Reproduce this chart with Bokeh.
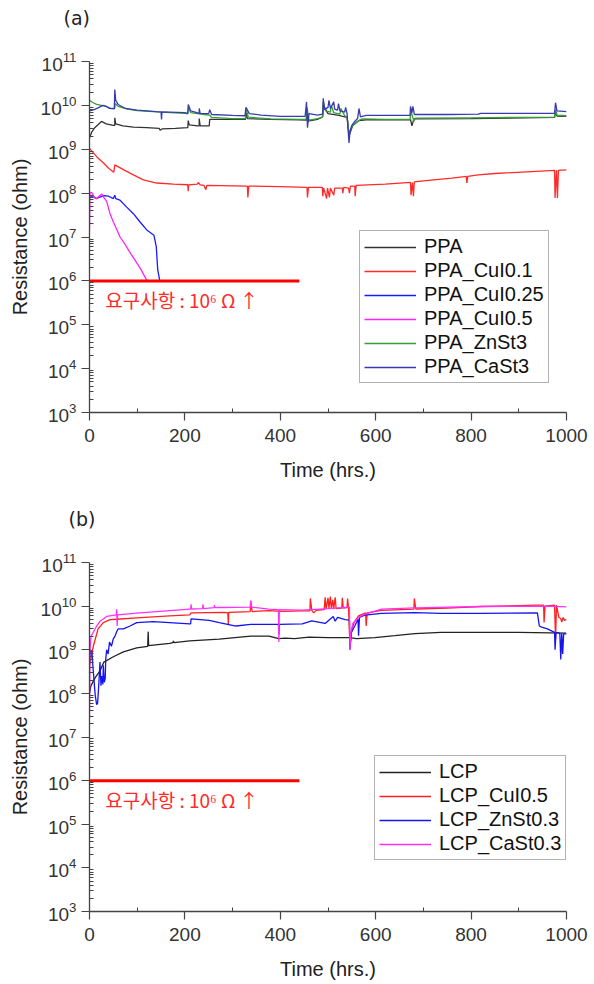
from bokeh.plotting import figure
from bokeh.layouts import column
from bokeh.models import Legend, LegendItem, Label, FixedTicker, LinearAxis
from bokeh.embed import file_html
from bokeh.resources import INLINE

# ---------------- data: panel (a) PPA ----------------
ppa_a = [(0,1.8e9),(5,2.5e9),(11,3.1e9),(21,3.9e9),(25,4.3e9),(35,3.8e9),(50,3.5e9),(53,3.5e9),(53,5.2e9),(55,3.8e9),
         (70,3.4e9),(92,3.2e9),(120,3.1e9),(146,3.0e9),(148,2.7e9),(152,2.9e9),(180,3.0e9),(206,3.1e9),(207,4.5e9),
         (209,3.6e9),(226,3.4e9),(230,3.4e9),(230,5.0e9),(232,3.4e9),(251,3.4e9),(252,4.8e9),(300,4.8e9),(327,4.8e9),
         (328,7.4e9),(331,5.0e9),(380,4.8e9),(440,4.7e9),(455,4.6e9),(456,8.0e9),(458,4.4e9),(478,4.8e9),(489,5.5e9),
         (490,1.0e10),(500,6.5e9),(520,6.0e9),(540,5.3e9),(544,2.0e9),(552,3.5e9),(565,4.5e9),(580,4.7e9),(673,4.7e9),
         (676,3.4e9),(680,4.9e9),(800,5.0e9),(975,5.3e9),(977,7.5e9),(980,5.7e9),(1000,5.6e9)]
ppa_cui01 = [(0,1.05e9),(16,6.6e8),(30,4.8e8),(40,3.7e8),(51,3.0e8),(53,4.4e8),(72,3.4e8),(92,2.6e8),(113,2.0e8),
             (141,1.7e8),(176,1.6e8),(206,1.55e8),(207,1.1e8),(208,1.55e8),(226,1.6e8),(228,1.75e8),(232,1.55e8),
             (240,1.5e8),(244,1.2e8),(246,1.5e8),(331,1.45e8),(332,8.0e7),(334,1.45e8),(398,1.4e8),(456,1.35e8),
             (457,8.0e7),(459,1.35e8),(488,1.35e8),(489,8.5e7),(491,1.3e8),(497,7.5e7),(499,1.3e8),(503,8.0e7),
             (505,1.3e8),(512,9.0e7),(514,1.3e8),(530,1.3e8),(531,1.0e8),(533,1.35e8),(543,1.3e8),(545,1.0e8),
             (547,1.45e8),(556,1.45e8),(557,8.5e7),(559,1.5e8),(620,1.6e8),(673,1.75e8),(674,9.0e7),(677,1.75e8),
             (679,8.5e7),(681,1.8e8),(700,1.9e8),(760,2.2e8),(790,2.4e8),(791,1.7e8),(793,2.4e8),(815,2.6e8),
             (850,2.8e8),(975,3.3e8),(976,7.8e7),(979,3.3e8),(981,7.8e7),(983,3.3e8),(1000,3.4e8)]
ppa_cui025 = [(0,8.5e7),(8,8.5e7),(14,7.5e7),(20,8.0e7),(30,8.8e7),(40,8.5e7),(50,7.5e7),(53,9.0e7),(55,7.5e7),
              (64,6.9e7),(78,4.8e7),(92,3.4e7),(106,2.2e7),(120,1.45e7),(128,1.25e7),(135,1.1e7),(140,6.0e6),
              (143,1.8e6),(147,1.05e6),(148,1.0e6)]
ppa_cui05 = [(0,1.5e7),(1,1.05e8),(6,1.0e8),(10,7.8e7),(15,7.5e7),(20,8.5e7),(26,9.5e7),(30,8.0e7),(36,6.5e7),
             (43,3.4e7),(50,2.2e7),(57,1.5e7),(64,1.0e7),(72,7.5e6),(78,5.9e6),(84,4.6e6),(95,3.0e6),(108,1.8e6),
             (115,1.3e6),(121,1.0e6)]
ppa_znst3 = [(0,1.3e10),(8,1.15e10),(15,1.05e10),(25,1.0e10),(35,9.5e9),(45,8.5e9),(53,8.5e9),(54,1.1e10),(60,9.5e9),
             (80,8.2e9),(100,7.6e9),(150,7.0e9),(200,6.6e9),(206,6.4e9),(208,9.0e9),(212,6.8e9),(240,6.2e9),
             (252,6.0e9),(256,5.3e9),(300,5.0e9),(327,5.0e9),(328,8.5e9),(333,5.4e9),(380,4.9e9),(440,4.8e9),
             (454,4.8e9),(456,9.0e9),(460,4.6e9),(478,5.0e9),(488,5.3e9),(490,1.2e10),(495,7.5e9),(505,7.0e9),
             (507,1.0e10),(512,6.8e9),(525,6.3e9),(527,8.5e9),(535,5.8e9),(540,5.5e9),(544,2.3e9),(550,3.3e9),
             (558,4.0e9),(566,4.6e9),(571,4.9e9),(620,4.8e9),(672,4.8e9),(674,7.5e9),(678,5.2e9),(680,4.3e9),
             (683,5.1e9),(800,5.2e9),(975,5.4e9),(977,8.0e9),(980,6.0e9),(1000,5.8e9)]
ppa_cast3 = [(0,7.5e9),(10,8.0e9),(20,9.0e9),(28,1.0e10),(35,9.5e9),(42,8.5e9),(52,8.3e9),(53,2.3e10),(55,1.3e10),
             (60,1.05e10),(75,8.5e9),(100,7.8e9),(140,7.2e9),(150,7.1e9),(151,4.8e9),(152,7.1e9),(200,6.8e9),
             (206,6.6e9),(207,1.05e10),(212,7.5e9),(225,6.8e9),(230,6.6e9),(230,8.5e9),(232,6.6e9),(250,6.5e9),
             (252,8.0e9),(256,6.2e9),(300,5.9e9),(326,5.8e9),(328,9.0e9),(335,6.5e9),(360,6.0e9),(400,5.6e9),
             (452,5.6e9),(455,1.2e10),(457,3.1e9),(460,6.5e9),(478,6.0e9),(489,6.3e9),(490,1.45e10),(493,8.0e9),
             (500,9.0e9),(502,1.3e10),(505,8.5e9),(512,1.2e10),(514,8.2e9),(520,7.8e9),(522,1.1e10),(525,7.5e9),
             (535,7.0e9),(537,9.0e9),(540,6.5e9),(544,1.4e9),(546,2.5e9),(550,3.5e9),(556,4.3e9),(562,5.0e9),
             (565,8.5e9),(568,5.5e9),(580,5.9e9),(672,5.9e9),(673,9.5e9),(676,6.8e9),(678,9.5e9),(681,6.2e9),
             (750,6.2e9),(815,6.3e9),(820,6.6e9),(975,6.6e9),(977,1.15e10),(980,7.5e9),(1000,7.2e9)]

# ---------------- data: panel (b) LCP ----------------
lcp_b = [(0,1.0e8),(3,1.5e8),(12,2.3e8),(22,3.3e8),(30,5.2e8),(50,6.9e8),(71,8.9e8),(99,1.1e9),(122,1.2e9),
         (123,2.6e9),(124,1.25e9),(168,1.4e9),(175,1.45e9),(176,1.6e9),(177,1.45e9),(210,1.6e9),(272,1.75e9),
         (338,2.05e9),(376,2.05e9),(397,1.8e9),(410,1.85e9),(430,1.8e9),(460,1.95e9),(500,1.9e9),(546,1.9e9),
         (560,1.8e9),(598,1.9e9),(640,2.1e9),(682,2.35e9),(737,2.5e9),(821,2.5e9),(900,2.5e9),(1000,2.4e9)]
lcp_cui05 = [(0,4.4e8),(8,1.2e9),(18,3.0e9),(29,4.2e9),(43,4.9e9),(57,5.0e9),(99,5.4e9),(168,6.0e9),(210,6.3e9),
             (213,7.0e9),(282,7.2e9),(290,7.0e9),(291,3.8e9),(292,7.2e9),(337,7.5e9),(338,1.3e10),(341,7.5e9),
             (376,7.9e9),(404,7.6e9),(446,7.8e9),(462,7.8e9),(463,1.5e10),(466,8.0e9),(470,7.0e9),(475,8.0e9),
             (492,8.3e9),(494,1.6e10),(496,8.5e9),(500,1.55e10),(502,9.0e9),(505,1.65e10),(507,8.7e9),(510,1.4e10),
             (512,8.5e9),(515,1.6e10),(517,8.8e9),(529,9.0e9),(530,1.55e10),(532,9.0e9),(540,9.2e9),(541,1.5e10),
             (543,9.2e9),(546,1.2e9),(550,3.0e9),(556,4.5e9),(564,6.0e9),(579,7.0e9),(580,3.5e9),(582,7.0e9),
             (612,8.0e9),(680,8.5e9),(681,1.5e10),(684,8.6e9),(750,9.0e9),(821,9.8e9),(939,1.05e10),(952,1.05e10),
             (953,4.2e9),(955,1.0e10),(975,1.05e10),(977,1.7e9),(979,1.05e10),(984,5.5e9),(988,5.2e9),(990,4.3e9),
             (993,5.5e9),(996,4.7e9),(1000,5.0e9)]
lcp_znst03 = [(0,5.2e8),(2,1.0e9),(5,9.0e8),(7,4.4e8),(12,9.0e7),(15,5.5e7),(17,6.0e7),(19,1.3e8),(22,5.2e8),
              (24,1.5e8),(26,2.5e8),(28,1.6e8),(29,4.4e8),(31,1.8e8),(33,2.2e8),(34,6.0e8),(36,1.0e9),(39,8.0e8),
              (42,1.5e9),(46,1.2e9),(50,1.8e9),(53,2.0e9),(57,2.6e9),(60,3.0e9),(71,3.0e9),(85,3.5e9),(99,4.2e9),
              (133,4.4e9),(168,4.2e9),(210,3.9e9),(212,3.9e9),(213,5.1e9),(251,4.7e9),(272,4.2e9),(307,3.5e9),
              (338,3.8e9),(376,3.8e9),(396,3.8e9),(397,2.2e9),(398,3.8e9),(446,3.9e9),(466,4.6e9),(494,4.0e9),
              (511,5.8e9),(515,4.5e9),(520,5.5e9),(536,4.9e9),(545,4.8e9),(546,1.0e9),(549,2.5e9),(556,3.5e9),
              (563,5.0e9),(564,2.1e9),(566,5.5e9),(577,6.2e9),(612,6.8e9),(682,7.1e9),(737,6.8e9),(821,6.8e9),
              (939,7.0e9),(943,3.5e9),(948,3.3e9),(960,3.0e9),(975,2.5e9),(976,1.0e9),(978,2.5e9),(986,2.4e9),
              (988,6.0e8),(990,2.4e9),(992,8.0e8),(994,2.3e9),(1000,2.3e9)]
lcp_cast03 = [(0,2.8e7),(1,1.0e9),(3,2.0e9),(15,3.5e9),(22,4.5e9),(36,5.8e9),(56,6.3e9),(57,8.5e9),(58,3.5e9),
              (59,6.3e9),(99,6.9e9),(168,7.9e9),(210,8.5e9),(212,8.5e9),(213,1.1e10),(214,8.6e9),(237,8.8e9),
              (238,1.1e10),(239,8.8e9),(261,9.2e9),(262,1.05e10),(263,9.2e9),(272,9.3e9),(337,9.5e9),(338,1.35e10),
              (340,9.5e9),(376,8.5e9),(396,8.3e9),(397,1.5e9),(398,8.3e9),(446,8.1e9),(500,8.8e9),(543,9.5e9),
              (545,9.5e9),(546,1.0e9),(548,2.5e9),(552,4.0e9),(564,5.5e9),(577,6.5e9),(612,8.5e9),(682,9.1e9),
              (821,9.8e9),(960,1.0e10),(1000,9.6e9)]

# requirement line and ticks
req_t = [0, 440]
req_r = [1e6, 1e6]
req_text = "요구사항 : 10⁶ Ω ↑"
x_major = [0, 200, 400, 600, 800, 1000]
x_minor = [100, 300, 500, 700, 900]
y_major = [10.0 ** k for k in range(3, 12)]
y_minor = [m * 10.0 ** k for k in range(3, 11) for m in range(2, 10)]

panel_a = [("PPA", ppa_a, "#333333"), ("PPA_CuI0.1", ppa_cui01, "#ff2a2a"),
           ("PPA_CuI0.25", ppa_cui025, "#1a1aff"), ("PPA_CuI0.5", ppa_cui05, "#ff22ff"),
           ("PPA_ZnSt3", ppa_znst3, "#35a035"), ("PPA_CaSt3", ppa_cast3, "#3a3ab0")]
panel_b = [("LCP", lcp_b, "#222222"), ("LCP_CuI0.5", lcp_cui05, "#ff2020"),
           ("LCP_ZnSt0.3", lcp_znst03, "#1414f0"), ("LCP_CaSt0.3", lcp_cast03, "#ff30ff")]

FONT = "Liberation Sans"
KFONT = "Noto Sans CJK KR"


def make_panel(series, tag, tag_dx, height, left, right, top, bottom, legend_loc):
    p = figure(width=592, height=height, y_axis_type="log", x_range=(0, 1000), y_range=(1e3, 1e11),
               output_backend="svg", toolbar_location=None,
               min_border_left=left, min_border_right=right, min_border_top=top, min_border_bottom=bottom)
    p.outline_line_color = None
    p.grid.visible = False
    p.background_fill_color = "white"
    p.border_fill_color = "white"

    xax = p.below[0]
    yax = p.left[0]
    xax.ticker = FixedTicker(ticks=x_major, minor_ticks=x_minor)
    yax.ticker = FixedTicker(ticks=y_major, minor_ticks=y_minor)
    xax.axis_label = "Time (hrs.)"
    yax.axis_label = "Resistance (ohm)"
    for ax in (xax, yax):
        ax.axis_line_color = "#444444"
        ax.axis_line_width = 1.3
        ax.major_tick_line_color = "#444444"
        ax.minor_tick_line_color = "#444444"
        ax.major_tick_line_width = 1.2
        ax.major_tick_in = 0
        ax.major_tick_out = 8
        ax.minor_tick_in = 4
        ax.minor_tick_out = 0
        ax.major_label_text_font = FONT
        ax.major_label_text_font_size = "19px"
        ax.major_label_text_color = "#333333"
        ax.axis_label_text_font = FONT
        ax.axis_label_text_font_size = "20px"
        ax.axis_label_text_font_style = "normal"
        ax.axis_label_text_color = "#222222"
    xax.major_label_standoff = 8
    xax.axis_label_standoff = 14
    yax.major_label_standoff = 5
    yax.axis_label_standoff = 7

    # panel tag as the (outermost) title, with a blank axis as spacer below it
    p.title.text = tag
    p.title.align = "left"
    p.title.offset = tag_dx
    p.title.standoff = 0
    p.title.text_font = "DejaVu Sans"
    p.title.text_font_size = "19px"
    p.title.text_font_style = "normal"
    p.title.text_color = "#222222"
    spacer = LinearAxis(ticker=FixedTicker(ticks=[0], minor_ticks=[]), axis_line_color=None,
                        major_tick_line_color=None, minor_tick_line_color=None,
                        major_tick_in=0, major_tick_out=33, minor_tick_in=0, minor_tick_out=0,
                        major_label_standoff=0, major_label_overrides={0: ""},
                        major_label_text_font_size="0px")
    p.add_layout(spacer, "above")

    items = []
    for name, pts, col in series:
        t = [a for a, _ in pts]
        r = [b for _, b in pts]
        rend = p.line(t, r, line_color=col, line_width=1.3)
        items.append(LegendItem(label=name, renderers=[rend]))

    p.line(req_t, req_r, line_color="#ff0000", line_width=3)
    p.add_layout(Label(x=33, y=1e6, y_offset=-19, text=req_text, text_baseline="middle",
                       text_color="#ff2a2a", text_font=KFONT, text_font_size="19px"))

    leg = Legend(items=items, location=legend_loc, border_line_color="#666666", border_line_width=1.5,
                 background_fill_alpha=1.0, padding=4, spacing=1, margin=0, glyph_width=52, glyph_height=20,
                 label_standoff=8, label_text_font=FONT, label_text_font_size="20px",
                 label_text_color="#111111")
    p.add_layout(leg)
    return p


pa = make_panel(panel_a, "(a)", -26, 483, 89, 23, 61, 70, (270, 29))
pb = make_panel(panel_b, "(b)", -21, 499, 86, 26, 79, 68, (285, 51))

layout = column(pa, pb, spacing=0)
open("out.html", "w").write(file_html(layout, INLINE))
